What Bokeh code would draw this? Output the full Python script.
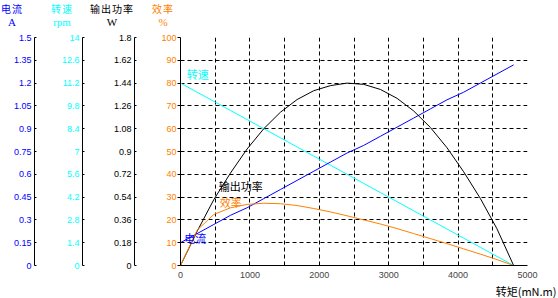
from bokeh.plotting import figure
from bokeh.layouts import column
from bokeh.models import (Range1d, LinearAxis, FixedTicker, CustomJSTickFormatter,
                          Label, Title, Div)
from bokeh.embed import file_html
from bokeh.resources import INLINE

# ---- data ----
torque = [0, 240, 480, 720, 960, 1200, 1440, 1680, 1920, 2160, 2400,
          2640, 2880, 3120, 3360, 3600, 3840, 4080, 4320, 4560, 4800]
current = [0.15, 0.21, 0.27, 0.33, 0.38, 0.44, 0.50, 0.56, 0.62, 0.68, 0.74,
           0.79, 0.85, 0.91, 0.97, 1.03, 1.09, 1.14, 1.20, 1.26, 1.32]
speed = [11.2, 10.64, 10.08, 9.52, 8.96, 8.40, 7.84, 7.28, 6.72, 6.16, 5.60,
         5.04, 4.48, 3.92, 3.36, 2.80, 2.24, 1.68, 1.12, 0.56, 0.0]
power = [0, 0.27, 0.52, 0.73, 0.92, 1.08, 1.21, 1.31, 1.38, 1.42, 1.44,
         1.43, 1.39, 1.32, 1.22, 1.09, 0.93, 0.74, 0.53, 0.29, 0]
efficiency = [0, 15.5, 22.4, 25.3, 26.8, 27.3, 27.1, 26.3, 25.0, 23.5, 21.8,
              20.0, 18.2, 16.2, 14.0, 11.8, 9.6, 7.3, 5.0, 2.6, 0]

current_ticks = [0, 0.15, 0.3, 0.45, 0.6, 0.75, 0.9, 1.05, 1.2, 1.35, 1.5]
speed_ticks = [0, 1.4, 2.8, 4.2, 5.6, 7, 8.4, 9.8, 11.2, 12.6, 14]
power_ticks = [0, 0.18, 0.36, 0.54, 0.72, 0.9, 1.08, 1.26, 1.44, 1.62, 1.8]
eff_ticks = [0, 10, 20, 30, 40, 50, 60, 70, 80, 90, 100]
torque_ticks = [0, 1000, 2000, 3000, 4000, 5000]
xgrid_ticks = [500, 1000, 1500, 2000, 2500, 3000, 3500, 4000, 4500, 5000]
ygrid_ticks = [10, 20, 30, 40, 50, 60, 70, 80, 90, 100]

axis_titles = [("电流", "A"), ("转速", "rpm"), ("输出功率", "W"), ("效率", "%")]
x_title = "转矩(mN.m)"

BLUE = "#0000ff"
CYAN = "#00ffff"
BLACK = "#000000"
ORANGE = "#ff8000"
NUM_FONT = "Liberation Sans"
NUM_SIZE = "9px"
CJK = "Noto Sans CJK SC"

TOP_H = 30

p = figure(width=558, height=298 - TOP_H, output_backend="svg", toolbar_location=None,
           x_range=Range1d(0, 5000), y_range=Range1d(0, 100),
           min_border_left=0, min_border_right=31, min_border_top=37 - TOP_H,
           min_border_bottom=31)
p.outline_line_color = None
p.background_fill_color = "white"
p.border_fill_color = "white"

p.extra_y_ranges = {"pwr": Range1d(0, 1.8), "spd": Range1d(0, 14),
                    "cur": Range1d(0, 1.5)}

fmt = CustomJSTickFormatter(code="return String(tick);")

# efficiency axis (innermost)
ya = p.yaxis[0]
ya.ticker = FixedTicker(ticks=eff_ticks)
ya.major_label_text_color = ORANGE
ya.major_label_text_font = NUM_FONT
ya.major_label_text_font_size = NUM_SIZE
ya.major_tick_in = 0
ya.major_tick_out = 3
ya.minor_tick_line_color = None
ya.major_label_standoff = 1
ya.axis_label = " "
ya.axis_label_text_font_size = "1px"
ya.axis_label_standoff = 20


def side_axis(name, ticks, color, filler):
    ax = LinearAxis(y_range_name=name, ticker=FixedTicker(ticks=ticks), formatter=fmt)
    ax.major_label_text_color = color
    ax.major_label_text_font = NUM_FONT
    ax.major_label_text_font_size = NUM_SIZE
    ax.major_tick_in = 2
    ax.major_tick_out = 0
    ax.minor_tick_line_color = None
    ax.major_label_standoff = 3
    ax.axis_line_color = BLACK
    ax.axis_label = " "
    ax.axis_label_text_font_size = "1px"
    ax.axis_label_standoff = filler
    p.add_layout(ax, "left")
    return ax


side_axis("pwr", power_ticks, BLACK, 24)
side_axis("spd", speed_ticks, CYAN, 20)
side_axis("cur", current_ticks, BLUE, 6)

# x axis
xa = p.xaxis[0]
xa.ticker = FixedTicker(ticks=torque_ticks)
xa.major_label_text_font = NUM_FONT
xa.major_label_text_font_size = NUM_SIZE
xa.major_tick_in = 0
xa.major_tick_out = 0
xa.minor_tick_line_color = None
xa.major_label_standoff = 6

p.add_layout(Title(text=x_title, align="right", offset=-29, standoff=0,
                   text_font=CJK, text_font_size="11px", text_font_style="normal",
                   text_color=BLACK), "below")

# grids
p.xgrid.ticker = FixedTicker(ticks=xgrid_ticks)
p.ygrid.ticker = FixedTicker(ticks=ygrid_ticks)
for g in (p.xgrid[0], p.ygrid[0]):
    g.grid_line_color = BLACK
    g.grid_line_dash = "4 3"
    g.grid_line_width = 1
    g.grid_line_alpha = 1

# curves
p.line(torque, speed, y_range_name="spd", line_color=CYAN, line_width=1)
p.line(torque, current, y_range_name="cur", line_color=BLUE, line_width=1)
p.line(torque, power, y_range_name="pwr", line_color=BLACK, line_width=1)
p.line(torque, efficiency, line_color=ORANGE, line_width=1)

# in-plot series labels (data units)
for txt, x, y, c in [("转速", 90, 84, CYAN), ("输出功率", 550, 35, BLACK),
                     ("效率", 565, 28, ORANGE), ("电流", 55, 12, BLUE)]:
    p.add_layout(Label(x=x, y=y, text=txt, text_color=c, text_font=CJK,
                       text_font_size="11px", text_align="left",
                       text_baseline="middle"))

# axis titles above the stacked axes
title_colors = [BLUE, CYAN, BLACK, ORANGE]
title_x = [12, 62, 112, 163]
spans = []
for (name, unit), c, cx in zip(axis_titles, title_colors, title_x):
    spans.append(
        f'<span style="position:absolute;left:{cx}px;top:8.5px;transform:translate(-50%,-50%);'
        f'color:{c};font-family:\'{CJK}\';font-size:10px;letter-spacing:1px;font-weight:normal;'
        f'white-space:nowrap;line-height:1">{name}</span>'
        f'<span style="position:absolute;left:{cx}px;top:22px;transform:translate(-50%,-50%);'
        f'color:{c};font-family:\'Liberation Serif\';font-size:11px;font-weight:normal;'
        f'white-space:nowrap;line-height:1">{unit}</span>')
div = Div(text=f'<div style="position:relative;width:558px;height:{TOP_H}px;">' + "".join(spans) + '</div>',
          width=558, height=TOP_H, margin=0)

layout = column(div, p, spacing=0)
open("out.html", "w").write(file_html(layout, INLINE))
